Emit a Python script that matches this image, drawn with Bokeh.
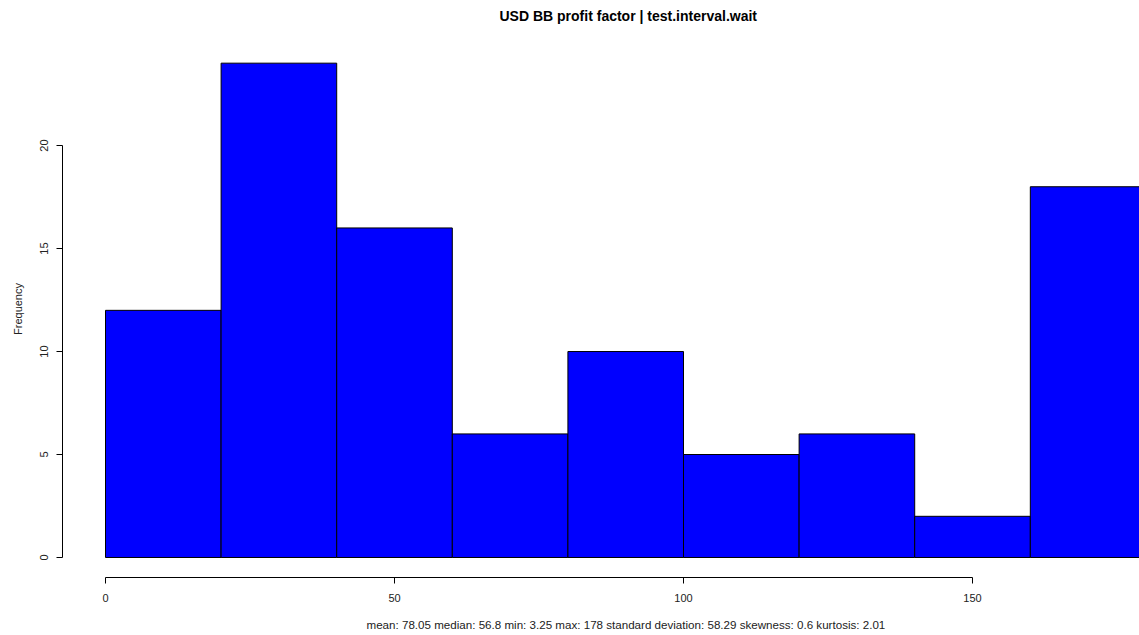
from bokeh.plotting import figure
from bokeh.models import Range1d, FixedTicker, Title
from bokeh.embed import file_html
from bokeh.resources import INLINE

# Data
bin_edges = [0, 20, 40, 60, 80, 100, 120, 140, 160, 180]
counts = [12, 24, 16, 6, 10, 5, 6, 2, 18]
x_ticks = [0, 50, 100, 150]
y_ticks = [0, 5, 10, 15, 20]
title_text = "USD BB profit factor | test.interval.wait"
subtitle_text = ("mean: 78.05 median: 56.8 min: 3.25 max: 178 standard deviation: 58.29 "
                 "skewness: 0.6 kurtosis: 2.01")

FONT = "Liberation Sans"

p = figure(width=1139, height=635, output_backend="svg", toolbar_location=None,
           x_range=Range1d(-7.44, 178.89), y_range=Range1d(-0.971, 25.10),
           min_border_left=62, min_border_right=0, min_border_top=40, min_border_bottom=58)

p.quad(left=bin_edges[:-1], right=bin_edges[1:], bottom=0, top=counts,
       fill_color="#0000ff", line_color="black", line_width=1)

p.xgrid.visible = False
p.ygrid.visible = False
p.outline_line_color = None
p.background_fill_color = "white"
p.border_fill_color = "white"

# x axis
xa = p.xaxis[0]
xa.ticker = FixedTicker(ticks=x_ticks)
xa.bounds = (0, 150)
xa.major_tick_out = 6
xa.major_tick_in = 0
xa.minor_tick_out = 0
xa.minor_tick_in = 0
xa.axis_line_color = "black"
xa.major_tick_line_color = "black"
xa.major_label_text_font = FONT
xa.major_label_text_font_size = "11px"
xa.major_label_text_color = "#222222"
xa.major_label_standoff = 10

# y axis
ya = p.yaxis[0]
ya.ticker = FixedTicker(ticks=y_ticks)
ya.bounds = (0, 20)
ya.major_tick_out = 6
ya.major_tick_in = 0
ya.minor_tick_out = 0
ya.minor_tick_in = 0
ya.axis_line_color = "black"
ya.major_tick_line_color = "black"
ya.major_label_orientation = "vertical"
ya.major_label_text_font = FONT
ya.major_label_text_font_size = "11px"
ya.major_label_text_color = "#222222"
ya.major_label_standoff = 8
ya.axis_label = "Frequency"
ya.axis_label_text_font = FONT
ya.axis_label_text_font_size = "11px"
ya.axis_label_text_font_style = "normal"
ya.axis_label_text_color = "#222222"
ya.axis_label_standoff = 14

# spacer between frame and title
p.add_layout(Title(text=" ", text_font_size="1px", standoff=14), "above")

p.title.text = title_text
p.title.align = "left"
p.title.offset = 437
p.title.standoff = 0
p.title.text_font = FONT
p.title.text_font_size = "14px"
p.title.text_font_style = "bold"
p.title.text_color = "black"

# spacer between x axis and subtitle, then subtitle
p.add_layout(Title(text=" ", text_font_size="1px", standoff=8), "below")
sub = Title(text=subtitle_text, align="left", offset=304, standoff=0, text_font=FONT,
            text_font_size="11.6px", text_font_style="normal", text_color="#222222")
p.add_layout(sub, "below")

open("out.html", "w").write(file_html(p, INLINE))
